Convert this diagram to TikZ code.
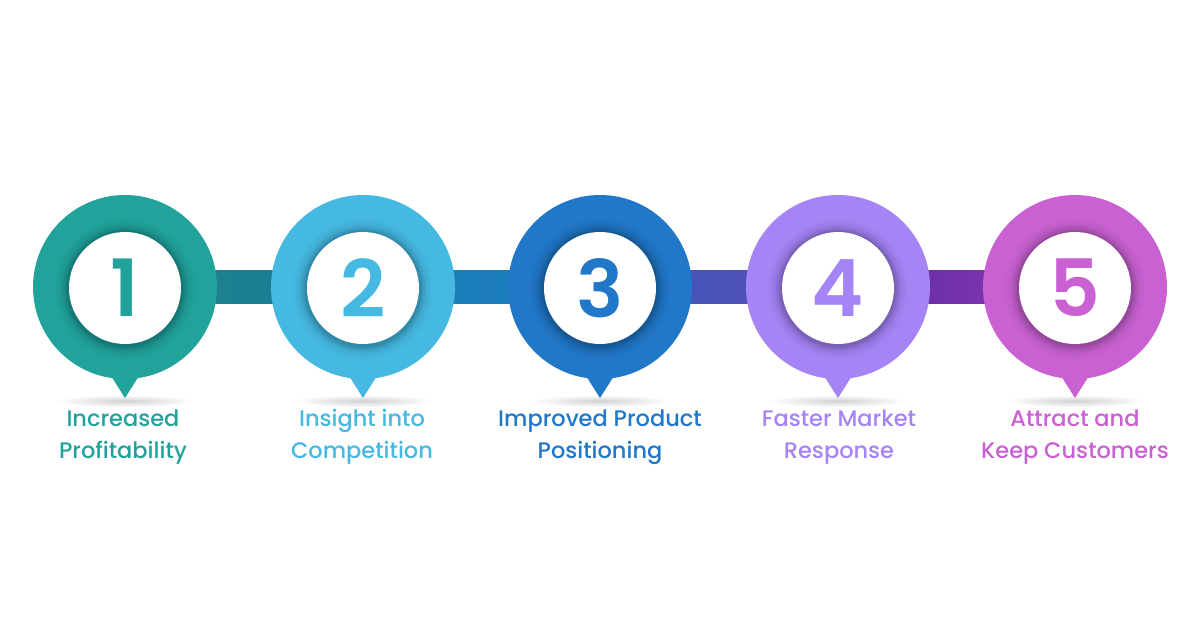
\documentclass[tikz,border=0pt]{standalone}
\usepackage{fontspec}
\setmainfont{Poppins}
\newfontfamily\medfont{Poppins Medium}
\newfontfamily\semifont{Poppins SemiBold}
\usetikzlibrary{backgrounds,calc}
\definecolor{cA}{HTML}{21A39C}
\definecolor{cB}{HTML}{46B9E2}
\definecolor{cC}{HTML}{2177C8}
\definecolor{cD}{HTML}{A684F6}
\definecolor{cE}{HTML}{CA61D3}
\definecolor{bA1}{HTML}{1C8489}
\definecolor{bA2}{HTML}{1B7A98}
\definecolor{bB1}{HTML}{1A82B6}
\definecolor{bB2}{HTML}{1D79BE}
\definecolor{bC1}{HTML}{3A58B9}
\definecolor{bC2}{HTML}{5B4CB4}
\definecolor{bD1}{HTML}{5A2A9E}
\definecolor{bD2}{HTML}{8C3AB6}
\tikzset{
  pin/.style={circle, minimum size=184pt, inner sep=0pt, fill=#1},
  hole/.style={circle, minimum size=112pt, inner sep=0pt, fill=white,
     text=#1, font=\fontsize{79}{79}\selectfont\semifont},
  lbl/.style={align=center, text=#1, font=\fontsize{22.5}{32.5}\selectfont\medfont},
}
\begin{document}
\begin{tikzpicture}[x=1pt,y=-1pt]
\useasboundingbox (0,0) rectangle (1200,628);
\foreach \n/\x/\c in {1/125/cA,2/363/cB,3/600/cC,4/838/cD,5/1075/cE}{
  \shade[inner color=black!18, outer color=white] (\x,401) ellipse [x radius=70, y radius=6];
  \fill[\c] (\x-19,368) -- (\x,398) -- (\x+19,368) -- cycle;
  \node[pin=\c] (p\n) at (\x,287) {};
  \foreach \r/\o in {70/0.02,67/0.03,64/0.04,62/0.05,60/0.06,58.5/0.07}{
    \fill[black, opacity=\o] (\x,289) circle (\r);
  }
}
\node[hole=cA] (h1) at (125,288) {1};
\node[hole=cB] (h2) at (363,288) {2};
\node[hole=cC] (h3) at (600,288) {3};
\node[hole=cD] (h4) at (838,288) {4};
\node[hole=cE] (h5) at (1075,288) {5};
\begin{scope}[on background layer]
  \fill[white] (0,0) rectangle (1200,628);
  \shade[left color=bA1, right color=bA2] ($(p1.center)+(0,-16.5)$) rectangle ($(p2.center)+(0,16.5)$);
  \shade[left color=bB1, right color=bB2] ($(p2.center)+(0,-16.5)$) rectangle ($(p3.center)+(0,16.5)$);
  \shade[left color=bC1, right color=bC2] ($(p3.center)+(0,-16.5)$) rectangle ($(p4.center)+(0,16.5)$);
  \shade[left color=bD1, right color=bD2] ($(p4.center)+(0,-16.5)$) rectangle ($(p5.center)+(0,16.5)$);
\end{scope}
\node[lbl=cA] (l1) at (123,437) {Increased\\Profitability};
\node[lbl=cB] (l2) at (362,437) {Insight into\\Competition};
\node[lbl=cC] (l3) at (600,437) {Improved Product\\Positioning};
\node[lbl=cD] (l4) at (839,437) {Faster Market\\Response};
\node[lbl=cE] (l5) at (1075,437) {Attract and\\Keep Customers};
\end{tikzpicture}
\end{document}
